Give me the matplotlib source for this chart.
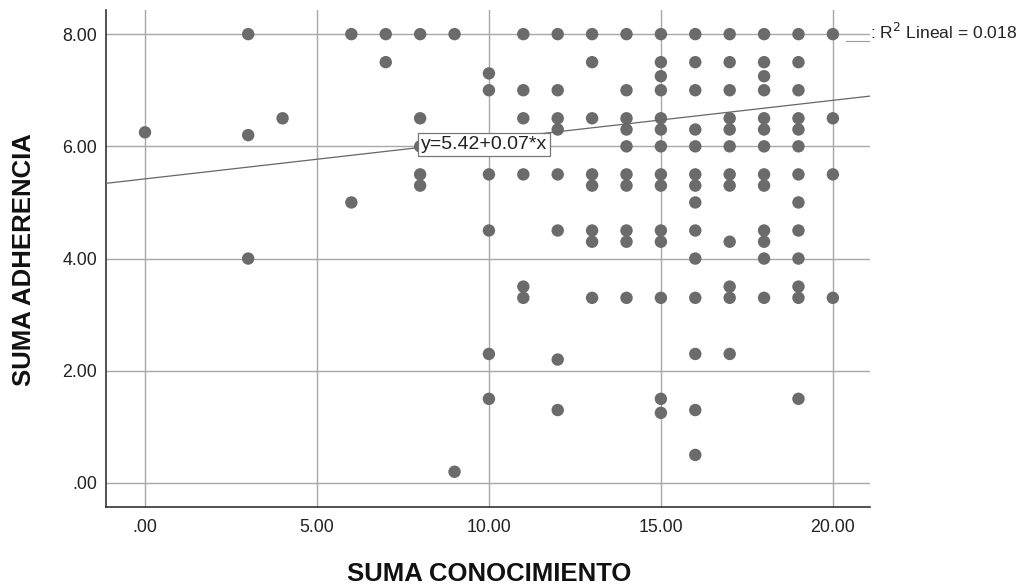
import matplotlib
matplotlib.use("Agg")
import matplotlib.pyplot as plt
import numpy as np

plt.rcParams['font.family'] = ['Liberation Sans', 'DejaVu Sans']

# Data: SUMA CONOCIMIENTO (x) columns and SUMA ADHERENCIA (y) values
col_x = [0, 3, 4, 6, 7, 8, 9, 10, 11, 12, 13, 14, 15, 16, 17, 18, 19, 20]
col_y = [
    [6.25],
    [8.0, 6.2, 4.0],
    [6.5],
    [8.0, 5.0],
    [8.0, 7.5],
    [8.0, 6.5, 6.0, 5.5, 5.3],
    [8.0, 0.2],
    [7.3, 7.0, 5.5, 4.5, 2.3, 1.5],
    [8.0, 7.0, 6.5, 5.5, 3.5, 3.3],
    [8.0, 7.0, 6.5, 6.3, 5.5, 4.5, 2.2, 1.3],
    [8.0, 7.5, 6.5, 5.5, 5.3, 4.5, 4.3, 3.3],
    [8.0, 7.0, 6.5, 6.3, 6.0, 5.5, 5.3, 4.5, 4.3, 3.3],
    [8.0, 7.5, 7.25, 7.0, 6.5, 6.3, 6.0, 5.5, 5.3, 4.5, 4.3, 3.3, 1.5, 1.25],
    [8.0, 7.5, 7.0, 6.3, 6.0, 5.5, 5.3, 5.0, 4.5, 4.0, 3.3, 2.3, 1.3, 0.5],
    [8.0, 7.5, 7.0, 6.5, 6.3, 6.0, 5.5, 5.3, 4.3, 3.5, 3.3, 2.3],
    [8.0, 7.5, 7.25, 7.0, 6.5, 6.3, 6.0, 5.5, 5.3, 4.5, 4.3, 4.0, 3.3],
    [8.0, 7.5, 7.0, 6.5, 6.3, 6.0, 5.5, 5.0, 4.5, 4.0, 3.5, 3.3, 1.5],
    [8.0, 6.5, 5.5, 3.3],
]
fit_intercept = 5.42
fit_slope = 0.07
r2_text = ": R$^2$ Lineal = 0.018"
eq_text = "y=5.42+0.07*x"
x_ticks = [0, 5, 10, 15, 20]
x_ticklabels = [".00", "5.00", "10.00", "15.00", "20.00"]
y_ticks = [0, 2, 4, 6, 8]
y_ticklabels = [".00", "2.00", "4.00", "6.00", "8.00"]

xs = np.concatenate([[cx] * len(ys) for cx, ys in zip(col_x, col_y)])
ys = np.concatenate([ys for ys in col_y])

W, H = 1023, 587
fig = plt.figure(figsize=(W / 100, H / 100), dpi=100)
ax = fig.add_axes([106 / W, 1 - 507 / H, (870 - 106) / W, (507 - 10) / H])

xlim = (-1.134, 21.08)
ylim = (-0.428, 8.43)
ax.set_xlim(*xlim)
ax.set_ylim(*ylim)

ax.set_xticks(x_ticks)
ax.set_xticklabels(x_ticklabels)
ax.set_yticks(y_ticks)
ax.set_yticklabels(y_ticklabels)
ax.tick_params(length=0, labelsize=12.8, colors='#222222')
ax.tick_params(axis='x', pad=9)
ax.tick_params(axis='y', pad=6.5)

ax.grid(True, color='#a8a8a8', linewidth=1.0)
ax.set_axisbelow(True)
for s in ['top', 'right']:
    ax.spines[s].set_visible(False)
for s in ['left', 'bottom']:
    ax.spines[s].set_color('#333333')
    ax.spines[s].set_linewidth(1.2)

ax.scatter(xs, ys, s=80, color='#6b6b6b', edgecolors='none', zorder=3)

lx = np.array(xlim)
ax.plot(lx, fit_intercept + fit_slope * lx, color='#666666', linewidth=0.9, zorder=4)

ax.text(8.02, fit_intercept + fit_slope * 8.0 + 0.05, eq_text, fontsize=14, ha='left', va='center',
        color='#222222', zorder=5,
        bbox=dict(boxstyle='square,pad=0.15', facecolor='white', edgecolor='#777777', linewidth=0.9))

# legend-like R2 label outside the axes
fig.add_artist(plt.Line2D([846 / W, 869 / W], [1 - 41 / H, 1 - 41 / H], color='#999999', linewidth=0.8))
fig.text(870 / W, 1 - 32 / H, r2_text, fontsize=12.6, ha='left', va='center', color='#222222')

fig.text(489 / W, 1 - 574 / H, "SUMA CONOCIMIENTO", fontsize=18.5, fontweight='bold',
         ha='center', va='center', color='#111111')
fig.text(24 / W, 1 - 260 / H, "SUMA ADHERENCIA", fontsize=18.5, fontweight='bold',
         ha='center', va='center', rotation=90, color='#111111')

fig.savefig("out.png", dpi=100)
